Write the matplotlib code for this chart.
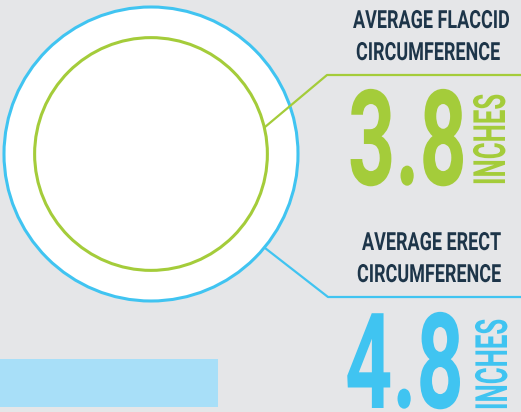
import matplotlib.pyplot as plt
from matplotlib.patches import Circle, Rectangle
from matplotlib.patheffects import AbstractPathEffect
from matplotlib.transforms import Affine2D


# data
sizes = ['flaccid', 'erect']
circumference = [3.8, 4.8]
headers = [['AVERAGE FLACCID', 'CIRCUMFERENCE'], ['AVERAGE ERECT', 'CIRCUMFERENCE']]
unit = 'INCHES'

bg = '#E5E6E8'
navy = '#1D3549'
colors = ['#A4CC3A', '#40C4F1']


class Squeeze(AbstractPathEffect):
    # narrow the glyphs along the baseline (condensed look)
    def __init__(self, sx):
        super().__init__()
        self.sx = sx

    def draw_path(self, renderer, gc, tpath, affine, rgbFace=None):
        renderer.draw_path(gc, tpath, Affine2D().scale(self.sx, 1) + affine, rgbFace)


plt.rcParams['font.family'] = ['Roboto', 'DejaVu Sans']

fig = plt.figure(figsize=(5.21, 4.12), dpi=100)
fig.patch.set_facecolor(bg)
ax = fig.add_axes([0, 0, 1, 1])
ax.set_xlim(0, 521)
ax.set_ylim(412, 0)
ax.axis('off')

# circles, radius proportional to circumference
cx, cy = 151, 154
scale = 147 / max(circumference)
for i in [1, 0]:
    r = circumference[i] * scale
    ax.add_patch(Circle((cx, cy), r, facecolor='white', edgecolor=colors[i], lw=2.2, zorder=1 + (1 - i)))

# leader lines
ax.plot([265, 327, 521], [127, 75, 75], color=colors[0], lw=1.6, zorder=3)
ax.plot([265, 328, 521], [248, 297, 297], color=colors[1], lw=1.6, zorder=3)

# light blue box
ax.add_patch(Rectangle((0, 359), 218, 48, facecolor='#A8DFF8', edgecolor='none'))

sq = [Squeeze(0.72)]
# header texts: (left, baseline)
head_pos = [[(353, 28), (356, 60)], [(362, 250), (357, 282)]]
num_pos = [(348, 185), (345, 408)]
unit_pos = [(505, 185), (507, 410)]

for i in range(2):
    for line, (x, y) in zip(headers[i], head_pos[i]):
        ax.text(x, y, line, fontsize=18, fontweight='bold', color=navy,
                ha='left', va='baseline', path_effects=sq)
    ax.text(num_pos[i][0], num_pos[i][1], '%.1f' % circumference[i], fontsize=96,
            fontweight='bold', color=colors[i], ha='left', va='baseline',
            path_effects=[Squeeze(0.62)])
    ax.text(unit_pos[i][0], unit_pos[i][1], unit, fontsize=32, fontweight='bold',
            color=colors[i], rotation=90, rotation_mode='anchor', ha='left',
            va='baseline', path_effects=[Squeeze(0.58)])

plt.savefig('out.png', dpi=100, facecolor=bg)
